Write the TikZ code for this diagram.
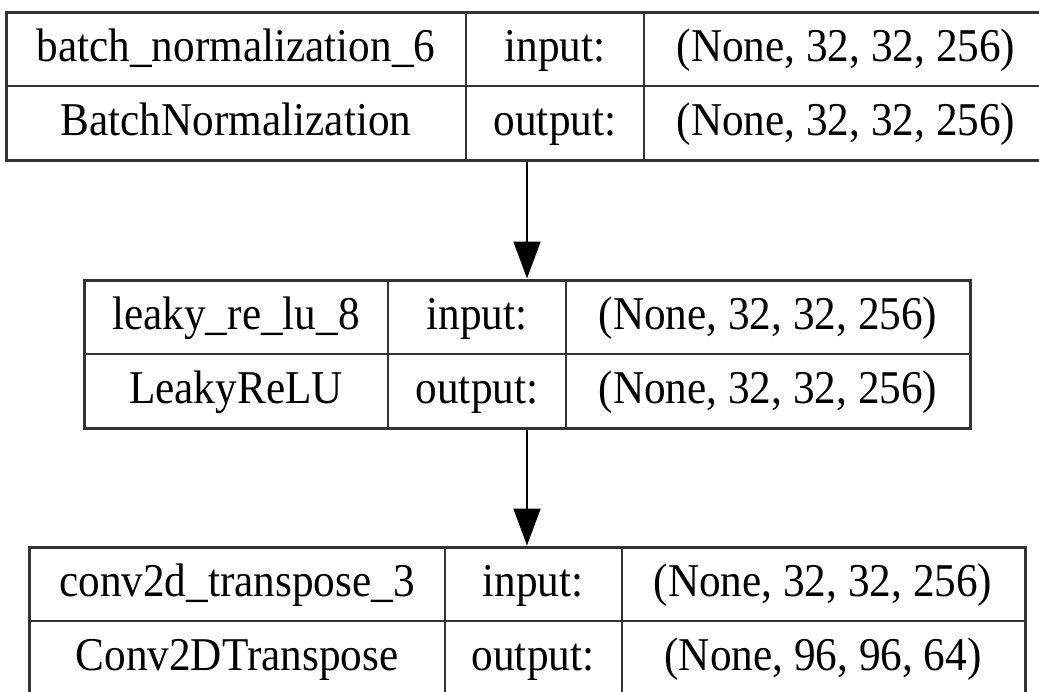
\documentclass[tikz,border=0pt]{standalone}
\usepackage{fontspec}
\setmainfont[FakeStretch=0.92]{Liberation Serif}
\usetikzlibrary{arrows.meta}
\begin{document}
\begin{tikzpicture}[x=1pt, y=-1pt,
    font=\fontsize{47}{56}\selectfont,
    layer/.style={draw, line width=3pt, inner sep=0pt, draw=black!80},
    grid/.style={line width=2pt, draw=black!80},
    cell/.style={inner sep=0pt, anchor=base},
    flow/.style={line width=2pt, -{Triangle[width=27pt, length=37pt]}}]
      \useasboundingbox (0,0) rectangle (1039,691);
      %
      % batch_normalization_6
      \node[layer, minimum width=1042pt, minimum height=148pt] (bn) at (527,86) {};
      \draw[grid] (bn.west) -- (bn.east);        % rows
      \draw[grid] (466,12) -- (466,160);         % cols
      \draw[grid] (644,12) -- (644,160);
      \node[cell] (bnname) at (236,61) {batch\_normalization\_6};
      \node[cell] (bntype) at (236,135) {BatchNormalization};
      \node[cell] (bnin) at (555,61) {input:};
      \node[cell] (bnout) at (555,135) {output:};
      \node[cell] (bninshape) at (846,61) {(None, 32, 32, 256)};
      \node[cell] (bnoutshape) at (846,135) {(None, 32, 32, 256)};
      %
      % leaky_re_lu_8
      \node[layer, minimum width=886pt, minimum height=148pt] (lrelu) at (527,354) {};
      \draw[grid] (lrelu.west) -- (lrelu.east);  % rows
      \draw[grid] (388,280) -- (388,428);        % cols
      \draw[grid] (566,280) -- (566,428);
      \node[cell] (lreluname) at (236,329) {leaky\_re\_lu\_8};
      \node[cell] (lrelutype) at (236,403) {LeakyReLU};
      \node[cell] (lreluin) at (477,329) {input:};
      \node[cell] (lreluout) at (477,403) {output:};
      \node[cell] (lreluinshape) at (768,329) {(None, 32, 32, 256)};
      \node[cell] (lreluoutshape) at (768,403) {(None, 32, 32, 256)};
      %
      % conv2d_transpose_3
      \node[layer, minimum width=996pt, minimum height=148pt] (convt) at (527,621) {};
      \draw[grid] (convt.west) -- (convt.east);  % rows
      \draw[grid] (445,547) -- (445,695);        % cols
      \draw[grid] (622,547) -- (622,695);
      \node[cell] (convtname) at (237,596) {conv2d\_transpose\_3};
      \node[cell] (convttype) at (237,670) {Conv2DTranspose};
      \node[cell] (convtin) at (533,596) {input:};
      \node[cell] (convtout) at (533,670) {output:};
      \node[cell] (convtinshape) at (823,596) {(None, 32, 32, 256)};
      \node[cell] (convtoutshape) at (823,670) {(None, 96, 96, 64)};
      %
      \draw[flow] (bn.south) -- (lrelu.north);   % arrows
      \draw[flow] (lrelu.south) -- (convt.north);
      %
    \end{tikzpicture}
\end{document}
